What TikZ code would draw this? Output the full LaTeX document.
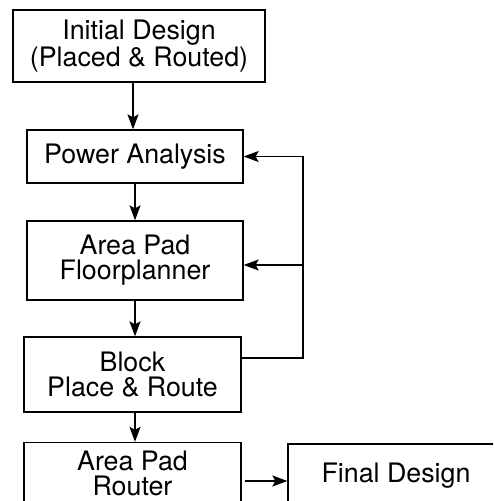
\documentclass[tikz,border=0pt]{standalone}
\usepackage{fontspec}
\setmainfont{TeX Gyre Heros}
\usetikzlibrary{arrows.meta}

\tikzset{
  stage/.style={draw, rectangle, line width=0.65pt, align=center, inner sep=0pt,
    font=\fontsize{13.4}{12.5}\selectfont},
  flow/.style={line width=0.65pt, -{Stealth[length=7.5pt,width=5.5pt,inset=1.5pt]}},
}

\begin{document}
\begin{tikzpicture}[x=0.5pt,y=-0.5pt]
\clip (0,0) rectangle (493,501);
% Stages of the flow
\node[stage, minimum width=126pt, minimum height=36pt] (init) at (139,46) {Initial Design\\(Placed \& Routed)};
\node[stage, minimum width=108pt, minimum height=26.5pt] (pa) at (135,156.5) {Power Analysis};
\node[stage, minimum width=108pt, minimum height=39.5pt] (fp) at (135,260.5) {Area Pad\\Floorplanner};
\node[stage, minimum width=108.5pt, minimum height=37.5pt] (bpr) at (132.5,374.5) {Block\\Place \& Route};
\node[stage, minimum width=108.5pt, minimum height=31pt] (rt) at (132.5,473.5) {Area Pad\\Router};
\node[stage, minimum width=108pt, minimum height=32pt] (fd) at (396,476) {Final Design};
% Downward arrows
\draw[flow] (init.south -| 133,0) -- (pa.north -| 133,0);
\draw[flow] (pa.south) -- (fp.north);
\draw[flow] (fp.south) -- (fp.south |- bpr.north);
\draw[flow] (bpr.south -| fp.south) -- (rt.north -| fp.south);
% Feedback loop back to power analysis and floorplanning
\coordinate (fb) at (303,358);
\draw[line width=0.65pt] (bpr.east |- fb) -- (fb) -- (fb |- pa.east);
\draw[flow] (fb |- pa.east) -- (pa.east);
\draw[flow] (fb |- 0,265) -- (fp.east |- 0,265);
% Router output
\draw[flow] ([xshift=1.5pt]rt.east |- 0,481) -- (fd.west |- 0,481);
\end{tikzpicture}
\end{document}
